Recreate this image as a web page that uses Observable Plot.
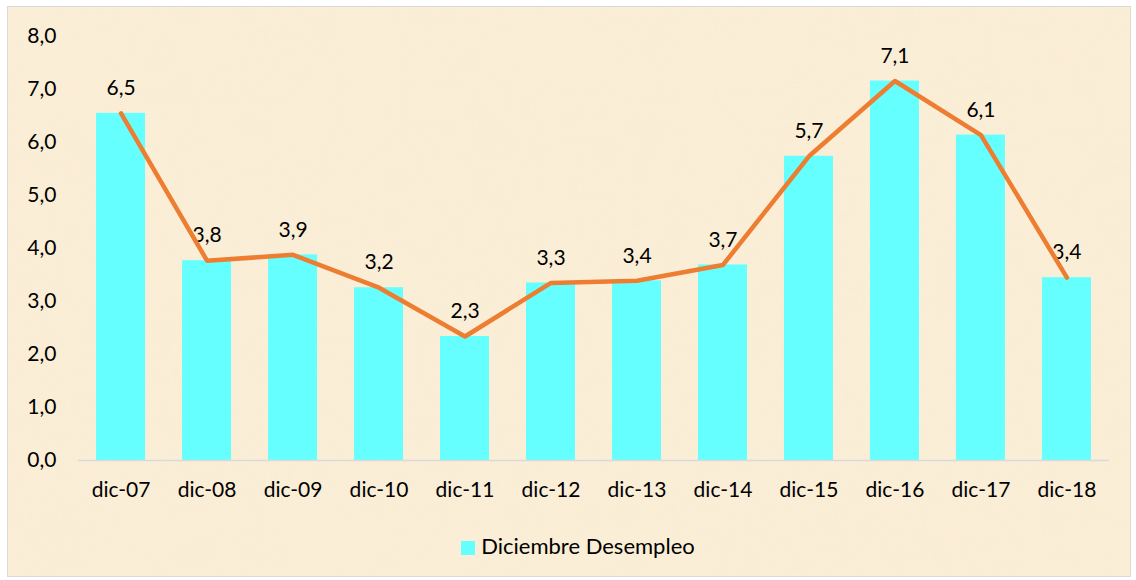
<!DOCTYPE html>
<html>
<head>
<meta charset="utf-8">
<script src="https://cdn.jsdelivr.net/npm/d3@7"></script>
<script src="https://cdn.jsdelivr.net/npm/@observablehq/plot@0.6"></script>
<style>
  html, body { margin: 0; padding: 0; background: #ffffff; }
  #frame {
    position: absolute; left: 7px; top: 6px; width: 1122px; height: 569px;
    border: 1px solid #d9d9d9; background: #fbeed7; overflow: hidden;
  }
  #tex { position: absolute; left: 0; top: 0; }
  #chart { position: absolute; left: -8px; top: -7px; width: 1136px; }
  #chart svg { max-width: none !important; }
  #legend {
    position: absolute; left: 18px; top: 525px; width: 1104px; text-align: center;
    font-family: Lato, "Open Sans", sans-serif; font-size: 22px; color: #000;
  }
  #legend .sw { display: inline-block; width: 14px; height: 14px; background: #66ffff; margin-right: 6px; vertical-align: -1px; }
</style>
</head>
<body>
<div id="frame">
  <svg id="tex" width="1122" height="569">
    <filter id="noise">
      <feTurbulence type="fractalNoise" baseFrequency="0.012" numOctaves="3" seed="4"/>
      <feColorMatrix type="matrix" values="0 0 0 0 0.93  0 0 0 0 0.82  0 0 0 0 0.62  0 0 0 0.45 -0.1"/>
    </filter>
    <rect width="1122" height="569" filter="url(#noise)" opacity="0.5"/>
  </svg>
  <div id="chart"></div>
  <div id="legend"><span class="sw"></span>Diciembre Desempleo</div>
</div>
<script>
const categories = ["dic-07","dic-08","dic-09","dic-10","dic-11","dic-12","dic-13","dic-14","dic-15","dic-16","dic-17","dic-18"];
const values = [6.55, 3.77, 3.88, 3.26, 2.34, 3.35, 3.39, 3.69, 5.74, 7.16, 6.14, 3.45];
const labels = ["6,5","3,8","3,9","3,2","2,3","3,3","3,4","3,7","5,7","7,1","6,1","3,4"];
const yTicks = [0,1,2,3,4,5,6,7,8];

const data = categories.map((c, i) => ({cat: c, value: values[i], label: labels[i]}));
const fmt = v => v.toFixed(1).replace(".", ",");

const chart = Plot.plot({
  width: 1136,
  height: 520,
  marginLeft: 78,
  marginRight: 27,
  marginTop: 36,
  marginBottom: 60,
  style: {background: "transparent", fontFamily: "Lato, 'Open Sans', sans-serif", fontSize: "21px", color: "#000"},
  x: {domain: categories, paddingInner: 0.43, paddingOuter: 0.21, round: false, label: null},
  y: {domain: [0, 8], label: null},
  marks: [
    Plot.axisY({ticks: yTicks, tickFormat: fmt, tickSize: 0, tickPadding: 22, fontSize: 21}),
    Plot.axisX({tickSize: 0, tickPadding: 22, fontSize: 21}),
    Plot.barY(data, {x: "cat", y: "value", fill: "#66ffff"}),
    Plot.ruleY([0], {stroke: "#d9d9d9", strokeWidth: 1.5}),
    Plot.text(data, {x: "cat", y: "value", text: "label", dy: -25, fontSize: 21, fill: "#000"}),
    Plot.line(data, {x: "cat", y: "value", stroke: "#ed7d31", strokeWidth: 4.5, strokeLinecap: "round", strokeLinejoin: "round"})
  ]
});
document.getElementById("chart").appendChild(chart);
</script>
</body>
</html>
